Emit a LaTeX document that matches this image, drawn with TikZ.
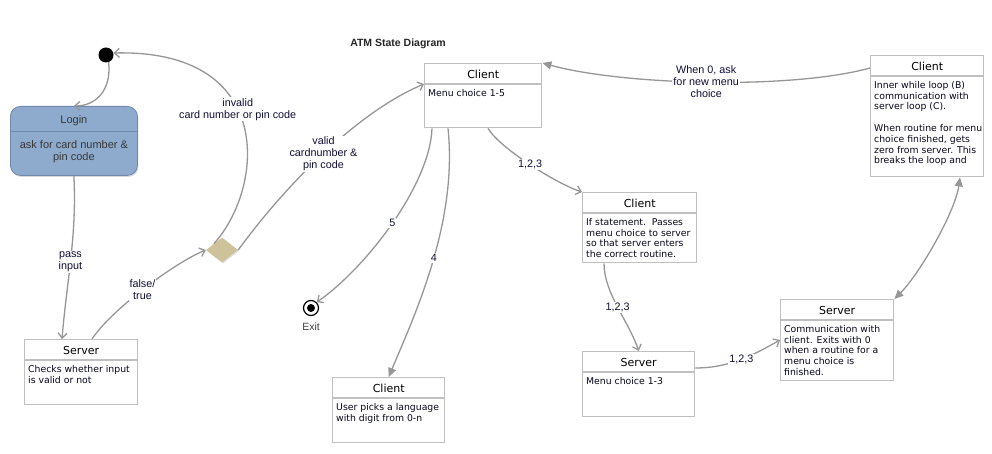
\documentclass[tikz,border=0pt]{standalone}
\usepackage{fontspec}
\setmainfont{Liberation Sans}
\newfontfamily\boxfont{DejaVu Sans}
\usetikzlibrary{arrows.meta,shapes.geometric,shadows}

\definecolor{linegray}{RGB}{150,150,150}
\definecolor{boxgray}{RGB}{192,192,192}
\definecolor{labelblue}{RGB}{15,15,55}
\definecolor{loginblue}{RGB}{142,170,204}
\definecolor{loginline}{RGB}{112,136,170}
\definecolor{choicetan}{RGB}{206,194,154}

\tikzset{
  flow/.style={draw=linegray, line width=1.3pt},
  openarrow/.style={-{Straight Barb[length=5pt,width=9pt]}},
  fillarrow/.style={-{Triangle[length=9pt,width=8pt]}},
  bothfill/.style={{Triangle[length=9pt,width=8pt]}-{Triangle[length=9pt,width=8pt]}},
  boxframe/.style={draw=boxgray, line width=1.4pt, fill=white, inner sep=0pt},
  boxtitle/.style={font=\boxfont\fontsize{11}{13}\selectfont, inner sep=0pt},
  boxbody/.style={font=\boxfont\fontsize{9.3}{10.8}\selectfont, text=labelblue!50!black, align=left, inner sep=0pt},
  lbl/.style={font=\fontsize{10.8}{12}\selectfont, text=labelblue, fill=white, inner sep=1pt, align=center},
  loginbox/.style={rectangle, rounded corners=10pt, fill=loginblue, draw=loginline, line width=0.8pt,
    minimum width=127pt, minimum height=69pt, drop shadow={opacity=0.3, shadow xshift=1pt, shadow yshift=-1.5pt}},
  logintext/.style={font=\fontsize{11}{12}\selectfont, text=black!78, align=center, inner sep=0pt},
  choice/.style={diamond, fill=choicetan, minimum width=32pt, minimum height=25pt, inner sep=0pt,
    drop shadow={opacity=0.25, shadow xshift=1pt, shadow yshift=-1pt}},
}

% name, x, y (top left), width, height, title, text
\newcommand{\umlstate}[7]{%
  \node[boxframe, anchor=north west, minimum width=#4pt, minimum height=#5pt] (#1) at (#2,#3) {};
  \node[boxtitle] (#1 title) at ([yshift=-11pt]#1.north) {#6};
  \draw[draw=boxgray, line width=1.4pt] ([yshift=-21pt]#1.north west) -- ([yshift=-21pt]#1.north east);
  \node[boxbody, anchor=north west] (#1 text) at ([shift={(4pt,-26pt)}]#1.north west) {#7};
}

\begin{document}
\begin{tikzpicture}[x=1pt, y=-1pt]
  % canvas
  \useasboundingbox (0,0) rectangle (992,454);
  \node[font=\bfseries\fontsize{10.5}{12}\selectfont, text=black!85] (title) at (398,44) {ATM State Diagram};

  % start and end states
  \node[circle, fill=black, minimum size=15pt, inner sep=0pt] (start) at (106,55) {};
  \node[circle, draw=black, line width=1.2pt, fill=white, minimum size=15pt, inner sep=0pt] (exit) at (311,308) {};
  \node[circle, fill=black, minimum size=8pt, inner sep=0pt] (exit dot) at (exit) {};
  \node[font=\fontsize{10.5}{12}\selectfont, text=black!75] (exit label) at (311,327) {Exit};

  % login
  \node[loginbox, anchor=north west] (login) at (10,106) {};
  \node[logintext] (login title) at ([yshift=-15pt]login.north) {Login};
  \draw[draw=loginline, line width=0.8pt] ([yshift=-25pt]login.north west) -- ([yshift=-25pt]login.north east);
  \node[logintext] (login text) at ([yshift=-46pt]login.north) {ask for card number \&\\pin code};

  % choice point
  \node[choice] (check) at (222,250) {};

  % states
  \umlstate{serverA}{24}{339}{113}{65}{Server}{Checks whether input\\is valid or not}
  \umlstate{clientTop}{424}{63}{117}{64}{Client}{Menu choice 1-5}
  \umlstate{clientLang}{332}{377}{112}{65}{Client}{User picks a language\\with digit from 0-n}
  \umlstate{clientIf}{582}{192}{114}{70}{Client}{If statement.\ \ Passes\\menu choice to server\\so that server enters\\the correct routine.}
  \umlstate{serverMenu}{582}{351}{112}{65}{Server}{Menu choice 1-3}
  \umlstate{serverComm}{780}{299}{113}{81}{Server}{Communication with\\client. Exits with 0\\when a routine for a\\menu choice is\\finished.}
  \umlstate{clientRight}{870}{55}{113}{121}{Client}{Inner while loop (B)\\communication with\\server loop (C).\\[10.8pt]When routine for menu\\choice finished, gets\\zero from server. This\\breaks the loop and}

  % transitions
  \draw[flow, openarrow] (start.-70) .. controls +(3,28) and +(22,0) .. (login.north);
  \draw[flow, openarrow] (login.south) .. controls +(3,60) and +(5,-60) .. ([xshift=38pt]serverA.north west)
    node[lbl, pos=0.53] {pass\\input};
  \draw[flow, openarrow] ([xshift=68pt]serverA.north west) .. controls +(20,-30) and +(-30,12) .. (check.west)
    node[lbl, pos=0.48] {false/\\true};
  \draw[flow, openarrow] (check.north west) .. controls +(50,-55) and +(164,-4) .. (start.15)
    node[lbl, pos=0.57] {invalid\\card number or pin code};
  \draw[flow, openarrow] (check.east) .. controls +(55,-75) and +(-60,25) .. ([yshift=-21pt]clientTop.north west)
    node[lbl, pos=0.47] {valid\\cardnumber \&\\pin code};
  \draw[flow, openarrow] ([xshift=8pt]clientTop.south west) .. controls +(-2,56) and +(50,-35) .. (exit.45)
    node[lbl, pos=0.5] {5};
  \draw[flow, fillarrow] ([xshift=24pt]clientTop.south west) .. controls +(10,95) and +(25,-60) .. (clientLang.north)
    node[lbl, pos=0.47] {4};
  \draw[flow, openarrow] ([xshift=64pt]clientTop.south west) .. controls +(12,20) and +(-25,-8) .. (clientIf.north west)
    node[lbl, pos=0.5] {1,2,3};
  \draw[flow, openarrow] ([xshift=22pt]clientIf.south west) .. controls +(0,30) and +(-10,-30) .. (serverMenu.north)
    node[lbl, pos=0.5] {1,2,3};
  \draw[flow, openarrow] ([yshift=-17pt]serverMenu.north east) .. controls +(35,0) and +(-25,14) .. ([yshift=-41pt]serverComm.north west)
    node[lbl, pos=0.5] {1,2,3};
  \draw[flow, bothfill] (serverComm.north east) .. controls +(25,-25) and +(-5,35) .. ([xshift=90pt]clientRight.south west);
  \draw[flow, fillarrow] ([yshift=-13pt]clientRight.north west) .. controls +(-80,22) and +(80,22) .. (clientTop.north east)
    node[lbl, pos=0.5] {When 0, ask\\for new menu\\choice};
\end{tikzpicture}
\end{document}
